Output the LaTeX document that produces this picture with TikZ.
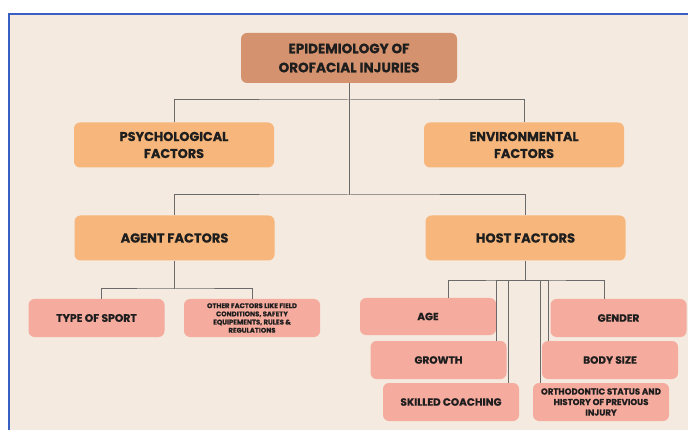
\documentclass[tikz,border=0pt]{standalone}
\usepackage{fontspec}
\setmainfont{Poppins}[BoldFeatures={FakeBold=0.6}]
\definecolor{bgc}{HTML}{F4EADF}
\definecolor{topc}{HTML}{D4926E}
\definecolor{orc}{HTML}{F7B77C}
\definecolor{pkc}{HTML}{F5AB9E}
\definecolor{linec}{HTML}{6A6A6A}
\definecolor{txtc}{HTML}{1E1E1E}
\definecolor{bluec}{HTML}{3A5FC2}
\begin{document}
\begin{tikzpicture}[x=1pt,y=-1pt,
  box/.style={rounded corners=6pt, align=center, text=txtc, inner sep=1pt, font=\bfseries},
  topbox/.style={box, fill=topc, minimum width=216pt, minimum height=50pt, font=\bfseries\fontsize{13.5}{19}\selectfont},
  orbox/.style={box, fill=orc, minimum width=200pt, minimum height=45pt},
  pkbox/.style={box, fill=pkc, minimum width=136pt, minimum height=38pt},
  conn/.style={draw=linec, line width=1pt}]
\useasboundingbox (0,0) rectangle (688,430);
\fill[white] (0,0) rectangle (688,430);
\fill[bgc] (9,14) rectangle (688,430);
\draw[bluec, line width=1.2pt] (9,430) -- (9,14) -- (688,14);

\node[topbox] (epi) at (349,58) {EPIDEMIOLOGY OF\\OROFACIAL INJURIES};
\node[orbox, font=\bfseries\fontsize{12.8}{17}\selectfont] (psych) at (174,145) {PSYCHOLOGICAL\\FACTORS};
\node[orbox, font=\bfseries\fontsize{12.8}{17}\selectfont] (env) at (524,145) {ENVIRONMENTAL\\FACTORS};
\node[orbox, font=\bfseries\fontsize{13}{16}\selectfont] (agent) at (174.5,238) {AGENT FACTORS};
\node[orbox, font=\bfseries\fontsize{13}{16}\selectfont] (host) at (525.5,238) {HOST FACTORS};

\node[pkbox, font=\bfseries\fontsize{10.8}{12}\selectfont] (sport) at (96.5,318) {TYPE OF SPORT};
\node[pkbox, font=\bfseries\fontsize{6.8}{8.2}\selectfont] (other) at (252,318) {OTHER FACTORS LIKE FIELD\\CONDITIONS, SAFETY\\EQUIPEMENTS, RULES \&\\REGULATIONS};

\node[pkbox, minimum height=37pt, font=\bfseries\fontsize{10.5}{12}\selectfont] (age) at (428,316.5) {AGE};
\node[pkbox, font=\bfseries\fontsize{10.5}{12}\selectfont] (growth) at (438.5,360) {GROWTH};
\node[pkbox, font=\bfseries\fontsize{10.5}{12}\selectfont] (skilled) at (451,402) {SKILLED COACHING};
\node[pkbox, font=\bfseries\fontsize{10.5}{12}\selectfont] (gender) at (618.5,318) {GENDER};
\node[pkbox, font=\bfseries\fontsize{10.5}{12}\selectfont] (body) at (610,360) {BODY SIZE};
\node[pkbox, font=\bfseries\fontsize{8.6}{10.5}\selectfont] (ortho) at (601,402) {ORTHODONTIC STATUS AND\\HISTORY OF PREVIOUS\\INJURY};

\coordinate (j1) at (349,100);
\coordinate (j2) at (349,195);
\coordinate (j3) at (174.5,289);
\coordinate (j4) at (525.5,281);

\draw[conn] (epi.south) -- (j2);
\draw[conn] (psych.north) |- (j1) -| (env.north);
\draw[conn] (agent.north) |- (j2) -| (host.north);
\draw[conn] (agent.south) -- (j3);
\draw[conn] ([xshift=4.5pt]sport.north) |- (j3) -| (other.north);
\draw[conn] (host.south) -- (j4);
\draw[conn] ([xshift=20pt]age.north) |- (j4) -| ([xshift=-14.5pt]gender.north);
\draw[conn] (j4) -| ([xshift=-10pt]growth.north east);
\draw[conn] (j4) -| ([xshift=-11pt]skilled.north east);
\draw[conn] (j4) -| ([xshift=8pt]ortho.north west);
\draw[conn] (j4) -| ([xshift=7pt]body.north west);
\end{tikzpicture}
\end{document}
